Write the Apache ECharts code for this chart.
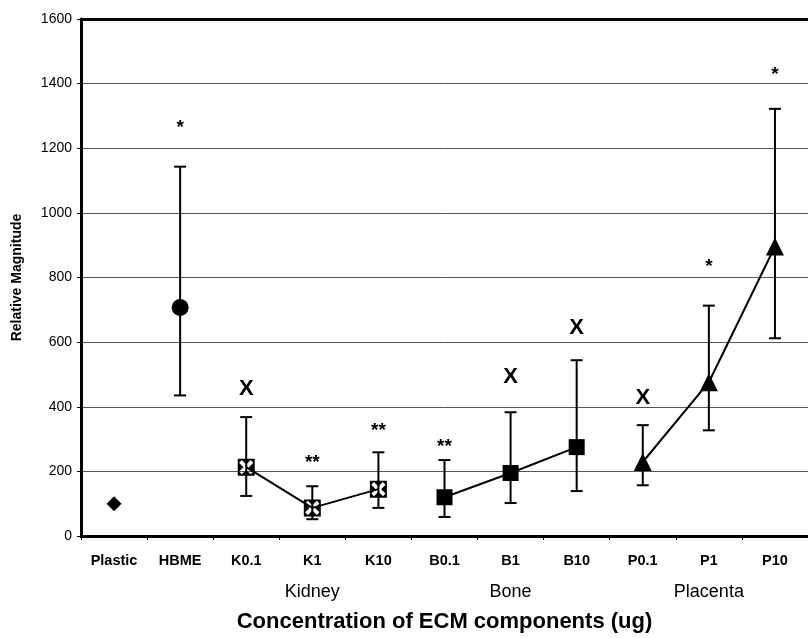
<!DOCTYPE html>
<html>
<head>
<meta charset="utf-8">
<script src="https://cdn.jsdelivr.net/npm/echarts@6/dist/echarts.min.js"></script>
<style>
html,body{margin:0;padding:0;background:#fff;}
#chart{width:808px;height:638px;}
</style>
</head>
<body>
<div id="chart"></div>
<script>
const categories = ['Plastic', 'HBME', 'K0.1', 'K1', 'K10', 'B0.1', 'B1', 'B10', 'P0.1', 'P1', 'P10'];
const means = [100, 707, 213, 87, 145, 120, 195, 275, 229, 476, 896];
const upper = [null, 1143, 368, 154, 259, 235, 383, 544, 343, 713, 1322];
const lower = [null, 435, 124, 52, 87, 59, 102, 139, 157, 327, 612];
const groupLabels = ['', '', '', 'Kidney', '', '', 'Bone', '', '', 'Placenta', ''];
const annText = ['', '*', 'X', '**', '**', '**', 'X', 'X', 'X', '*', '*'];
const annY = [null, 1262, 454, 228, 326, 276, 491, 643, 426, 834, 1428];
const kidneyIdx = [2, 3, 4];
const boneIdx = [5, 6, 7];
const placentaIdx = [8, 9, 10];

const FONT = 'Arial, "Liberation Sans", sans-serif';
function pick(idx) {
  return categories.map((c, i) => idx.includes(i) ? means[i] : '-');
}
const errData = [];
categories.forEach((c, i) => {
  if (upper[i] != null) errData.push([i, lower[i], upper[i]]);
});
const annData = [];
categories.forEach((c, i) => {
  if (annText[i]) {
    const isX = annText[i] === 'X';
    annData.push({
      value: [i, annY[i]],
      label: {
        show: true,
        formatter: annText[i],
        fontSize: isX ? 22 : 19,
        fontWeight: 'bold',
        fontFamily: FONT,
        color: '#000',
        position: 'inside'
      }
    });
  }
});

const kidneySymbol = 'path://M0,0 L10,0 L10,10 L0,10 Z M0.8,2.4 L3.4,5 L0.8,7.6 L2.4,9.2 L5,6.6 L7.6,9.2 L9.2,7.6 L6.6,5 L9.2,2.4 L7.6,0.8 L5,3.4 L2.4,0.8 Z';

const chart = echarts.init(document.getElementById('chart'), null, {renderer: 'canvas'});
chart.setOption({
  animation: false,
  backgroundColor: '#fff',
  grid: {
    left: 81, top: 19, right: 0, bottom: 102,
    show: false
  },
  xAxis: [{
    type: 'category',
    data: categories,
    boundaryGap: true,
    axisLine: {show: true, lineStyle: {color: '#000', width: 3}},
    axisTick: {show: true, length: 4, lineStyle: {color: '#000', width: 1}},
    axisLabel: {fontSize: 14.5, fontWeight: 'bold', color: '#000', fontFamily: FONT, margin: 17, interval: 0},
    splitLine: {show: false},
    name: 'Concentration of ECM components (ug)',
    nameLocation: 'middle',
    nameGap: 75,
    nameTextStyle: {fontSize: 22, fontWeight: 'bold', color: '#000', fontFamily: FONT}
  }, {
    type: 'category',
    data: groupLabels,
    position: 'bottom',
    offset: 39,
    boundaryGap: true,
    axisLine: {show: false},
    axisTick: {show: false},
    axisLabel: {fontSize: 18, color: '#000', fontFamily: FONT, margin: 8, interval: 0},
    splitLine: {show: false}
  }, {
    type: 'category',
    data: categories,
    position: 'top',
    boundaryGap: true,
    axisLine: {show: true, lineStyle: {color: '#000', width: 3}},
    axisTick: {show: false},
    axisLabel: {show: false},
    splitLine: {show: false}
  }],
  yAxis: {
    type: 'value',
    min: 0, max: 1600, interval: 200,
    axisLine: {show: true, lineStyle: {color: '#000', width: 3}},
    axisTick: {show: true, length: 4, lineStyle: {color: '#000', width: 1}},
    axisLabel: {fontSize: 14, color: '#000', fontFamily: FONT, margin: 9, formatter: function (v) { return String(v); }},
    splitLine: {show: true, lineStyle: {color: '#555', width: 1}},
    name: 'Relative Magnitude',
    nameLocation: 'middle',
    nameGap: 57,
    nameTextStyle: {fontSize: 14, fontWeight: 'bold', color: '#000', fontFamily: FONT}
  },
  series: [
    {
      type: 'custom',
      z: 2,
      data: errData,
      encode: {x: 0, y: [1, 2]},
      renderItem: function (params, api) {
        const x = api.value(0);
        const pLo = api.coord([x, api.value(1)]);
        const pHi = api.coord([x, api.value(2)]);
        const w = 6;
        const st = {stroke: '#000', lineWidth: 2};
        return {
          type: 'group',
          children: [
            {type: 'line', shape: {x1: pLo[0], y1: pLo[1], x2: pHi[0], y2: pHi[1]}, style: st},
            {type: 'line', shape: {x1: pHi[0] - w, y1: pHi[1], x2: pHi[0] + w, y2: pHi[1]}, style: st},
            {type: 'line', shape: {x1: pLo[0] - w, y1: pLo[1], x2: pLo[0] + w, y2: pLo[1]}, style: st}
          ]
        };
      }
    },
    {
      type: 'scatter', z: 4,
      data: pick([0]),
      symbol: 'diamond', symbolSize: 15,
      itemStyle: {color: '#000', opacity: 1}
    },
    {
      type: 'scatter', z: 4,
      data: pick([1]),
      symbol: 'circle', symbolSize: 17,
      itemStyle: {color: '#000', opacity: 1}
    },
    {
      type: 'line', z: 4,
      data: pick(kidneyIdx),
      symbol: kidneySymbol, symbolSize: 17, showSymbol: true,
      itemStyle: {color: '#000'},
      lineStyle: {color: '#000', width: 2}
    },
    {
      type: 'line', z: 4,
      data: pick(boneIdx),
      symbol: 'rect', symbolSize: 16, showSymbol: true,
      itemStyle: {color: '#000'},
      lineStyle: {color: '#000', width: 2}
    },
    {
      type: 'line', z: 4,
      data: pick(placentaIdx),
      symbol: 'triangle', symbolSize: 18, showSymbol: true,
      itemStyle: {color: '#000'},
      lineStyle: {color: '#000', width: 2}
    },
    {
      type: 'scatter', z: 5,
      data: annData,
      symbolSize: 1,
      itemStyle: {color: 'rgba(0,0,0,0)', opacity: 1}
    }
  ]
});
</script>
</body>
</html>
